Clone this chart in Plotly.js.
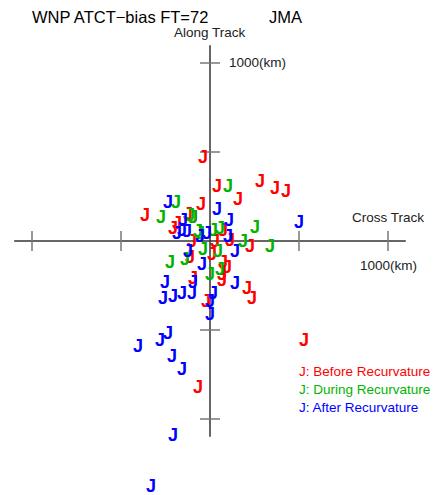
<!DOCTYPE html>
<html><head><meta charset="utf-8">
<script src="https://cdn.plot.ly/plotly-3.0.1.min.js"></script>
<style>html,body{margin:0;padding:0;background:#fff}#chart{width:438px;height:495px}</style>
</head><body><div id="chart"></div>
<script>
// Along/cross track biases (km)
const beforeX = [-39, 39, 281, 365, 427, 157, -51, -365, -124, -96, -185, -208, 73, 112, -101, 225, 11, 73, 96, 67, 67, -96, 208, 236, -22, 528, -67, 28, -112];
const beforeY = [466, 303, 326, 287, 270, 230, 202, 135, 146, 124, 90, 62, 51, 0, -11, -39, -79, -124, -152, -191, -230, -219, -275, -331, -348, -567, -826, -11, -96];
const duringX = [101, -191, -275, -112, -96, 253, -67, 17, 56, 185, 337, -39, 45, -225, -140, 56, 0, -56];
const duringY = [298, 208, 129, 140, 124, 73, 45, 56, 62, -11, -34, -51, -67, -124, -112, -163, -191, 34];
const afterX = [-236, 39, 107, 500, -152, -157, -129, -185, -56, -17, 101, 140, -124, -45, -253, -96, 140, -264, -208, -157, -101, 17, 0, 0, -404, -281, -236, -213, -157, -208, -331];
const afterY = [213, 174, 107, 96, 107, 51, 45, 34, 22, 34, 17, -62, -67, -135, -236, -236, -242, -331, -315, -303, -298, -298, -343, -416, -596, -567, -528, -652, -730, -1101, -1382];
const tickValues = [-1000, -500, 500, 1000];
const axisExtent = 1100;
const tickHalf = 56;

const font = 'Liberation Sans, Arial, sans-serif';
function jTrace(xs, ys, color, name) {
  return {x: xs, y: ys, mode: 'text', type: 'scatter', name: name,
    text: xs.map(() => 'J'), textposition: 'middle center', cliponaxis: false,
    textfont: {family: font, size: 18, color: color, weight: 'bold'}, hoverinfo: 'x+y+name'};
}
const traces = [
  jTrace(beforeX, beforeY, '#ff0000', 'Before Recurvature'),
  jTrace(duringX, duringY, '#00b400', 'During Recurvature'),
  jTrace(afterX, afterY, '#0000ff', 'After Recurvature')
];

const shapes = [
  {type: 'line', x0: -axisExtent, x1: axisExtent, y0: 0, y1: 0, line: {color: '#333', width: 1.5}, layer: 'below'},
  {type: 'line', x0: 0, x1: 0, y0: -axisExtent, y1: axisExtent, line: {color: '#333', width: 1.5}, layer: 'below'}
];
tickValues.forEach(v => {
  shapes.push({type: 'line', x0: v, x1: v, y0: -tickHalf, y1: tickHalf, line: {color: '#777', width: 1.5}, layer: 'below'});
  shapes.push({type: 'line', x0: -tickHalf, x1: tickHalf, y0: v, y1: v, line: {color: '#777', width: 1.5}, layer: 'below'});
});

const W = 438, H = 495;
function ann(text, px, py, size, color, anchor) {
  return {text: text, xref: 'paper', yref: 'paper', x: px / W, y: 1 - py / H,
    xanchor: anchor || 'left', yanchor: 'middle', showarrow: false,
    font: {family: font, size: size, color: color || '#000'}};
}
const annotations = [
  ann('WNP ATCT\u2212bias FT=72', 30, 17, 16.5),
  ann('JMA', 267, 17, 16.5),
  ann('Along Track', 210, 33, 13.5, '#222', 'center'),
  ann('1000(km)', 227, 63, 13.5, '#222'),
  ann('Cross Track', 350, 218, 13.5, '#222'),
  ann('1000(km)', 358, 265, 13.5, '#222'),
  ann('J: Before Recurvature', 297, 371, 13.5, '#ff0000'),
  ann('J: During Recurvature', 297, 389, 13.5, '#00b400'),
  ann('J: After Recurvature', 297, 407, 13.5, '#0000ff')
];

// pixel mapping: center at (210,241), 0.178 px per km
const s = 0.178;
const layout = {
  width: W, height: H, margin: {l: 0, r: 0, t: 0, b: 0},
  paper_bgcolor: '#fff', plot_bgcolor: '#fff', showlegend: false,
  xaxis: {range: [-210 / s, (W - 210) / s], visible: false, fixedrange: true},
  yaxis: {range: [-(H - 241) / s, 241 / s], visible: false, fixedrange: true},
  shapes: shapes, annotations: annotations
};
Plotly.newPlot('chart', traces, layout, {displayModeBar: false, staticPlot: true});
</script></body></html>
